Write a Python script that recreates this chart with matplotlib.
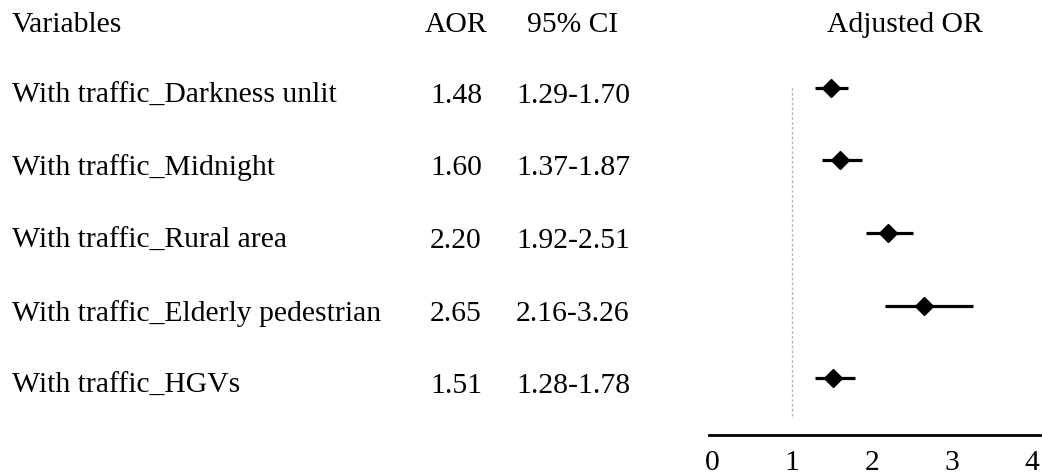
import matplotlib
matplotlib.use("Agg")
import matplotlib.pyplot as plt
import matplotlib.transforms as mtransforms

variables = [
    "With traffic_Darkness unlit",
    "With traffic_Midnight",
    "With traffic_Rural area",
    "With traffic_Elderly pedestrian",
    "With traffic_HGVs",
]
aor = [1.48, 1.60, 2.20, 2.65, 1.51]
ci_low = [1.29, 1.37, 1.92, 2.16, 1.28]
ci_high = [1.70, 1.87, 2.51, 3.26, 1.78]
xticks = [0, 1, 2, 3, 4]

plt.rcParams["font.family"] = ["Liberation Serif", "DejaVu Serif"]
FS = 21.3

W, H = 1042, 476
fig = plt.figure(figsize=(W / 100, H / 100), dpi=100)

# forest plot panel
ax = fig.add_axes([709 / W, (H - 435) / H, 331 / W, (435 - 60) / H])
n = len(variables)
ys = [n - 1 - i for i in range(n)]
ax.set_xlim(-0.04, 4.1)
ax.set_ylim(-0.786, n - 1 + 0.386)

ax.axvline(1, ymin=0.05, ymax=0.93, color="#b5b5b5", lw=1.0, ls=(0, (2, 1.5)))
for y, m, lo, hi in zip(ys, aor, ci_low, ci_high):
    ax.plot([lo, hi], [y, y], color="black", lw=2.3, solid_capstyle="butt")
    ax.plot([m], [y], marker="D", color="black", ms=9.5)

for s in ["top", "right", "left"]:
    ax.spines[s].set_visible(False)
ax.spines["bottom"].set_linewidth(2.0)
ax.set_yticks([])
ax.set_xticks(xticks)
ax.set_xticklabels([str(t) for t in xticks], fontsize=FS)
ax.tick_params(axis="x", length=0, pad=11)

# table columns (figure x, data y), baselines a little below each marker row
tr = mtransforms.blended_transform_factory(fig.transFigure, ax.transData)
tr_text = mtransforms.offset_copy(tr, fig=fig, y=-15, units="dots")
x_var, x_aor, x_ci = 12 / W, 456 / W, 573 / W
for y, v, m, lo, hi in zip(ys, variables, aor, ci_low, ci_high):
    fig.text(x_var, y, v, transform=tr_text, ha="left", va="baseline", fontsize=FS)
    fig.text(x_aor, y, f"{m:.2f}", transform=tr_text, ha="center", va="baseline", fontsize=FS)
    fig.text(x_ci, y, f"{lo:.2f}-{hi:.2f}", transform=tr_text, ha="center", va="baseline", fontsize=FS)

yh = 1 - 32 / H
fig.text(x_var, yh, "Variables", ha="left", va="baseline", fontsize=FS)
fig.text(x_aor, yh, "AOR", ha="center", va="baseline", fontsize=FS)
fig.text(x_ci, yh, "95% CI", ha="center", va="baseline", fontsize=FS)
fig.text(905 / W, yh, "Adjusted OR", ha="center", va="baseline", fontsize=FS)

fig.savefig("out.png", dpi=100)
